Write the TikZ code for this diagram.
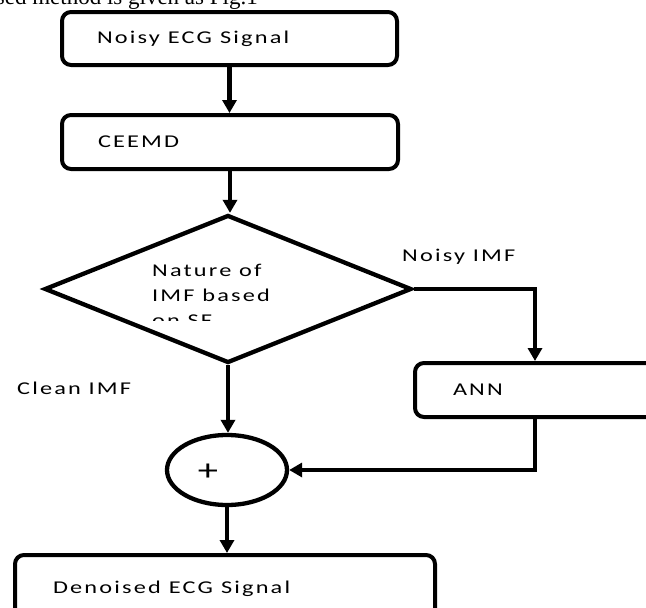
\documentclass[tikz,border=0pt]{standalone}
\usepackage{fontspec}
\setmainfont{Carlito}[LetterSpace=9]
\newfontfamily\capfont{Liberation Serif}
\usetikzlibrary{arrows.meta,shapes.geometric}
\newcommand\wtxt[1]{\scalebox{1.35}[1]{#1}}
\begin{document}
\begin{tikzpicture}[x=1pt,y=-1pt,
  box/.style={draw, line width=4pt, rounded corners=9pt, inner ysep=0pt,
              align=left, font=\fontsize{18}{22}\selectfont},
  lbl/.style={font=\fontsize{18}{22}\selectfont, inner sep=0pt, anchor=base west},
  arr/.style={line width=4.3pt, -{Triangle[length=13pt,width=14pt]}},
  ln/.style={line width=4.3pt}]
\useasboundingbox (0,0) rectangle (646,608);
\clip (0,0) rectangle (646,608);

% clipped caption line of the page above
\node[font=\capfont\fontsize{23}{26}\selectfont, anchor=base east, inner sep=0pt]
  (cap) at (258,4) {proposed method is given as Fig.1};

% boxes
\node[box, minimum width=335pt, minimum height=53pt, inner xsep=35pt, text width=265pt]
  (n1) at (229.5,38.5) {\wtxt{Noisy ECG Signal}};
\node[box, minimum width=336pt, minimum height=54pt, inner xsep=36pt, text width=264pt]
  (n2) at (230,142) {\wtxt{CEEMD}};
\node[diamond, draw, line width=4.3pt, minimum width=367pt, minimum height=148pt, inner sep=0pt]
  (d) at (228,289) {};
\node[box, minimum width=265pt, minimum height=54pt, inner xsep=38pt, text width=189pt]
  (ann) at (547.5,390) {\wtxt{ANN}};
\node[ellipse, draw, line width=4.3pt, minimum width=120pt, minimum height=70pt, inner sep=0pt]
  (c) at (227,470) {};
\node[font=\fontsize{30}{30}\selectfont, inner sep=0pt] (plus) at (208,472) {\wtxt{+}};
\node[box, minimum width=420pt, minimum height=67pt, inner xsep=38pt, text width=344pt]
  (den) at (225,588.5) {\wtxt{Denoised ECG Signal}};

% diamond text (last line cut off as in the reference)
\begin{scope}
  \clip (140,250) rectangle (330,320);
  \node[lbl] (t1) at (152,276) {\wtxt{Nature of}};
  \node[lbl] (t2) at (152,301) {\wtxt{IMF based}};
  \node[lbl] (t3) at (152,326) {\wtxt{on SF}};
\end{scope}

% labels
\node[lbl] (noisy) at (402,261) {\wtxt{Noisy IMF}};
\node[lbl] (clean) at (17,394) {\wtxt{Clean IMF}};

% connectors
\coordinate (rb) at (535,289);
\draw[arr] (n1.south) -- (n1.south |- n2.north);
\draw[arr] (n2.south) -- (n2.south |- d.north);
\draw[arr] (d.east) -- (rb) -- (rb |- ann.north);
\draw[arr] (d.south) -- (d.south |- c.north);
\draw[arr] (rb |- ann.south) |- (c.east);
\draw[arr] (c.south) -- (c.south |- den.north);
\end{tikzpicture}
\end{document}
